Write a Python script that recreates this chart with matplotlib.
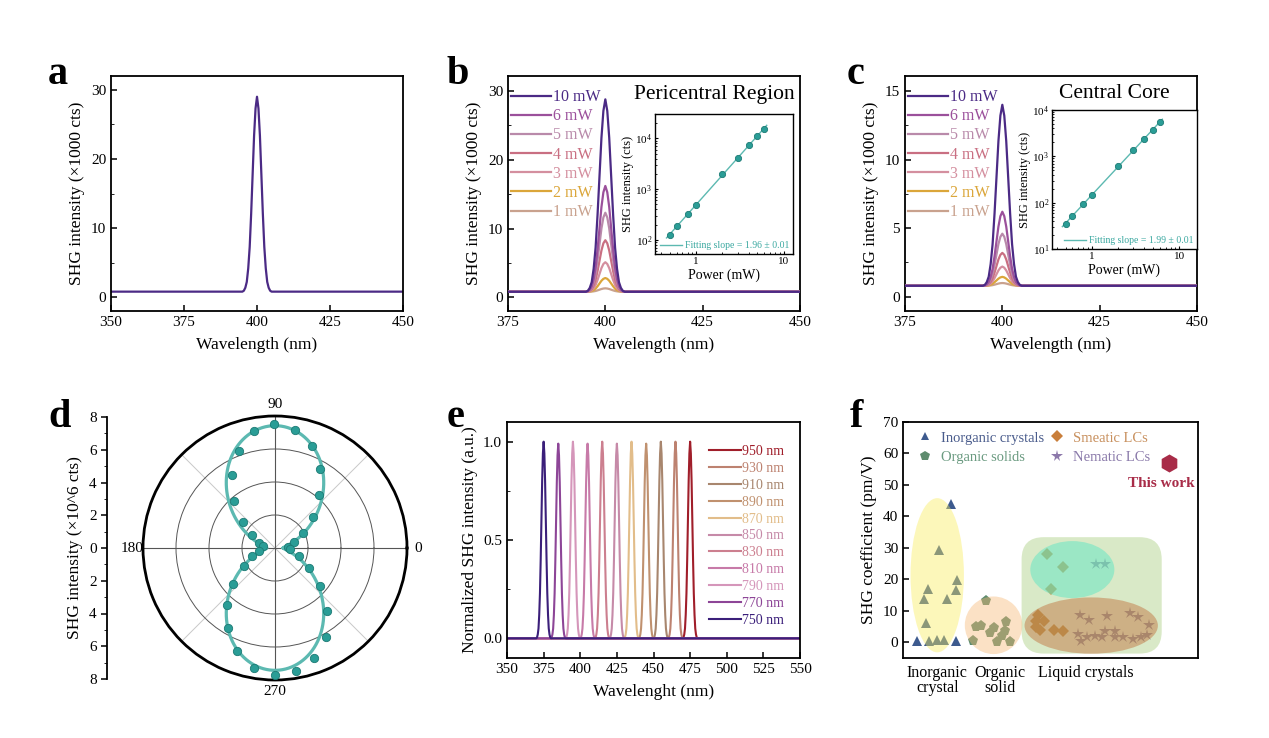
import numpy as np
import matplotlib
matplotlib.use('Agg')
import matplotlib.pyplot as plt
import matplotlib.transforms as mtransforms
from matplotlib.patches import Ellipse, FancyBboxPatch
from matplotlib.lines import Line2D
from matplotlib.ticker import MultipleLocator, FixedLocator, FuncFormatter, LogLocator, NullFormatter, LogFormatterSciNotation

plt.rcParams['font.family'] = ['Liberation Serif', 'DejaVu Serif']
plt.rcParams['mathtext.fontset'] = 'stix'
plt.rcParams['xtick.direction'] = 'in'
plt.rcParams['ytick.direction'] = 'in'
plt.rcParams['axes.linewidth'] = 1.3
plt.rcParams['xtick.major.width'] = 1.1
plt.rcParams['ytick.major.width'] = 1.1
plt.rcParams['xtick.major.size'] = 4
plt.rcParams['ytick.major.size'] = 4
plt.rcParams['ytick.minor.size'] = 2.2
plt.rcParams['xtick.minor.size'] = 2.2

# ---------------- data ----------------
# normalised peak line shape (offset in nm, relative intensity)
profile_offset = [-5.0, -4.5, -4.0, -3.5, -3.0, -2.5, -2.0, -1.5, -1.0, -0.5, 0.0,
                  0.5, 1.0, 1.5, 2.0, 2.5, 3.0, 3.5, 4.0, 4.5, 5.0]
profile_rel = [0.0, 0.005, 0.02, 0.05, 0.12, 0.23, 0.40, 0.60, 0.80, 0.94, 1.0,
               0.94, 0.80, 0.60, 0.40, 0.23, 0.12, 0.05, 0.02, 0.005, 0.0]

# panel a
a_center = 400
a_peak = 29.0
a_base = 0.8

# panels b, c
power_labels = ['10 mW', '6 mW', '5 mW', '4 mW', '3 mW', '2 mW', '1 mW']
power_colors = ['#4b2a85', '#9b509b', '#b98aaa', '#c96f82', '#d48f9f', '#dba63a', '#c9a28e']
b_peaks = [28.8, 16.2, 12.3, 8.3, 5.1, 2.8, 1.3]
c_peaks = [14.0, 6.2, 4.6, 3.2, 2.2, 1.45, 1.0]
bc_base = 0.8
bc_center = 400

# insets
inset_power = [0.5, 0.6, 0.8, 1.0, 2.0, 3.0, 4.0, 5.0, 6.0]
b_counts = [125, 185, 324, 490, 1950, 4150, 7300, 11200, 15100]
c_counts = [35.5, 52, 93, 145, 630, 1360, 2390, 3740, 5500]

# panel d (polar)
d_theta_deg = [4.5, 17.8, 28.5, 39.5, 50.7, 60.5, 70.0, 80.5, 90.5, 100.3, 110.1, 120.5,
               130.6, 141.0, 151.0, 161.9, 170.8, 190.8, 199.2, 210.3, 220.1, 229.8,
               239.5, 249.7, 260.0, 270.0, 279.6, 289.7, 299.7, 309.6, 319.6, 329.7,
               341.8, 354.9]
d_r = [0.77, 1.19, 1.91, 2.96, 4.19, 5.51, 6.55, 7.28, 7.53, 7.18, 6.28, 5.14,
       3.79, 2.50, 1.60, 1.04, 0.76, 0.97, 1.48, 2.20, 3.35, 4.52,
       5.66, 6.66, 7.38, 7.67, 7.58, 7.07, 6.18, 4.93, 3.58, 2.36,
       1.55, 0.91]

# panel e
e_labels = ['950 nm', '930 nm', '910 nm', '890 nm', '870 nm', '850 nm',
            '830 nm', '810 nm', '790 nm', '770 nm', '750 nm']
e_centers = [475, 465, 455, 445, 435, 425, 415, 405, 395, 385, 375]
e_heights = [1.0, 1.0, 1.0, 0.99, 1.0, 0.99, 1.0, 0.99, 1.0, 0.99, 1.0]
e_colors = ['#a01e2a', '#bd8270', '#a8866e', '#c0916f', '#e2bd8a', '#c68aa8',
            '#cc7f8f', '#c77aa8', '#d596ba', '#8d4597', '#3b1f7a']

# panel f
inorg_x = [0.47, 0.88, 1.16, 1.40, 1.79, 0.79, 0.70, 0.85, 1.21, 1.63, 1.50, 1.79, 1.82]
inorg_y = [0.5, 0.5, 0.85, 0.6, 0.5, 6.2, 13.8, 17.0, 29.3, 43.9, 13.6, 16.5, 19.7]
org_x = [2.80, 2.49, 2.66, 3.07, 2.96, 2.38, 3.19, 3.37, 3.46, 3.48, 3.62]
org_y = [13.1, 5.0, 5.3, 4.6, 2.9, 0.5, 0.0, 2.1, 3.5, 6.4, 0.0]
sm_x = [4.87, 5.42, 5.00, 4.58, 4.52, 4.78, 4.50, 4.66, 5.11, 5.42]
sm_y = [27.9, 23.9, 17.0, 8.7, 6.9, 6.6, 4.8, 3.9, 3.9, 3.7]
nm_x = [6.55, 6.84, 5.99, 6.31, 6.93, 7.71, 7.98, 8.34, 5.92, 6.03, 6.25, 6.50,
        6.76, 6.84, 7.18, 7.18, 7.46, 7.80, 8.08, 8.27]
nm_y = [25, 25, 8.7, 7.2, 8.5, 9.3, 8.0, 5.5, 2.7, 0.3, 1.6, 2.1,
        1.8, 3.5, 3.5, 1.8, 1.8, 1.1, 1.6, 2.3]
this_x = [9.0]
this_y = [56.9]
f_categories = ['Inorganic\ncrystal', 'Organic\nsolid', 'Liquid crystals']
f_cat_x = [1.16, 3.28, 6.19]

# ---------------- layout helpers ----------------
W, H = 1269, 738
fig = plt.figure(figsize=(W / 100, H / 100), dpi=100)


def px_box(l, t, r, b):
    return [l / W, 1 - b / H, (r - l) / W, (b - t) / H]


def spectrum(center, peak, base, xmin, xmax):
    xs = [xmin] + [center + o for o in profile_offset] + [xmax]
    ys = [base] + [base + (peak - base) * p for p in profile_rel] + [base]
    return xs, ys


TICK_FS = 11
LABEL_FS = 12.5
teal = '#2a9d96'
teal_edge = '#1c7a74'
teal_line = '#5cb9b1'

# ---------------- panel a ----------------
ax_a = fig.add_axes(px_box(111, 76, 403, 311))
xs, ys = spectrum(a_center, a_peak, a_base, 350, 450)
ax_a.plot(xs, ys, color='#4b2a85', lw=1.6)
ax_a.set_xlim(350, 450)
ax_a.set_ylim(-2, 32)
ax_a.xaxis.set_major_locator(MultipleLocator(25))
ax_a.yaxis.set_major_locator(MultipleLocator(10))
ax_a.yaxis.set_minor_locator(MultipleLocator(5))
ax_a.set_xlabel('Wavelength (nm)', fontsize=LABEL_FS, labelpad=6)
ax_a.set_ylabel('SHG intensity (×1000 cts)', fontsize=LABEL_FS)
ax_a.tick_params(labelsize=TICK_FS)


# ---------------- panels b, c ----------------
def power_panel(box, peaks, ylim, ymaj, ymin, title, title_xy, inset_box, counts,
                ilim_y, ilim_x, slope_text):
    ax = fig.add_axes(px_box(*box))
    handles = []
    for lab, col, pk in zip(power_labels, power_colors, peaks):
        xs, ys = spectrum(bc_center, pk, bc_base, 375, 450)
        ln, = ax.plot(xs, ys, color=col, lw=1.6, label=lab)
        handles.append(ln)
    # strongest curve on top
    for ln, z in zip(handles, range(len(handles), 0, -1)):
        ln.set_zorder(2 + z)
    ax.set_xlim(375, 450)
    ax.set_ylim(*ylim)
    ax.xaxis.set_major_locator(MultipleLocator(25))
    ax.yaxis.set_major_locator(MultipleLocator(ymaj))
    ax.yaxis.set_minor_locator(MultipleLocator(ymin))
    ax.set_xlabel('Wavelength (nm)', fontsize=LABEL_FS, labelpad=6)
    ax.set_ylabel('SHG intensity (×1000 cts)', fontsize=LABEL_FS)
    ax.tick_params(labelsize=TICK_FS)
    leg = ax.legend(handles=handles, loc='upper left', bbox_to_anchor=(-0.022, 0.985),
                    frameon=False, fontsize=11.5, handlelength=2.5, handletextpad=0.15,
                    labelspacing=0.2, borderaxespad=0.3, borderpad=0.3)
    for t, col in zip(leg.get_texts(), power_colors):
        t.set_color(col)
    fig.text(title_xy[0] / W, 1 - title_xy[1] / H, title, fontsize=15.5,
             ha='center', va='center')

    ins = fig.add_axes(px_box(*inset_box))
    ins.set_xscale('log')
    ins.set_yscale('log')
    logp = np.log10(inset_power)
    logc = np.log10(counts)
    slope, icpt = np.polyfit(logp, logc, 1)
    fx = np.array([min(inset_power) * 0.92, max(inset_power) * 1.07])
    fit_ln, = ins.plot(fx, 10 ** (icpt + slope * np.log10(fx)), color=teal_line, lw=1.0)
    ins.plot(inset_power, counts, 'o', color=teal, mec=teal_edge, mew=0.6, ms=4.5, zorder=3)
    ins.set_xlim(*ilim_x)
    ins.set_ylim(*ilim_y)
    ins.xaxis.set_major_locator(FixedLocator([1, 10]))
    ins.xaxis.set_major_formatter(FuncFormatter(lambda v, p: '%g' % v))
    ins.xaxis.set_minor_locator(LogLocator(base=10, subs=np.arange(2, 10)))
    ins.xaxis.set_minor_formatter(NullFormatter())
    ins.yaxis.set_major_locator(LogLocator(base=10, numticks=10))
    ins.yaxis.set_major_formatter(LogFormatterSciNotation())
    ins.yaxis.set_minor_locator(LogLocator(base=10, subs=np.arange(2, 10), numticks=10))
    ins.yaxis.set_minor_formatter(NullFormatter())
    ins.tick_params(labelsize=8, length=2.5, width=0.8, pad=2)
    ins.tick_params(which='minor', length=1.5, width=0.6)
    for s in ins.spines.values():
        s.set_linewidth(1.0)
    ins.set_xlabel('Power (mW)', fontsize=10, labelpad=2)
    ins.set_ylabel('SHG intensity (cts)', fontsize=9, labelpad=1)
    ileg = ins.legend([fit_ln], [slope_text], loc='lower right', frameon=False,
                      fontsize=7, handlelength=2.2, handletextpad=0.3,
                      borderaxespad=0.2, borderpad=0.2)
    ileg.get_texts()[0].set_color('#3aa8a0')
    return ax


ax_b = power_panel((508, 76, 800, 311), b_peaks, (-2, 32.2), 10, 5,
                   'Pericentral Region', (714, 95), (655, 114, 793, 254), b_counts,
                   (10 ** 1.725, 10 ** 4.477), (0.34, 12.8), 'Fitting slope = 1.96 ± 0.01')
ax_c = power_panel((905, 76, 1197, 311), c_peaks, (-1.04, 16.1), 5, 2.5,
                   'Central Core', (1114, 93), (1052, 110, 1197, 249), c_counts,
                   (10, 1e4), (0.35, 16), 'Fitting slope = 1.99 ± 0.01')

# ---------------- panel d (polar) ----------------
cx, cy, R = 275, 548, 132
ax_d = fig.add_axes(px_box(cx - R, cy - R, cx + R, cy + R), projection='polar')
th = np.deg2rad(d_theta_deg)
rr = np.array(d_r)
# least-squares fit r = A sin^2(theta) + B to the measured points
Amat = np.vstack([np.sin(th) ** 2, np.ones_like(th)]).T
(A_fit, B_fit), *_ = np.linalg.lstsq(Amat, rr, rcond=None)
tt = np.linspace(0, 2 * np.pi, 721)
ax_d.set_rlim(0, 8)
ax_d.set_rticks([2, 4, 6, 8])
ax_d.set_yticklabels([])
ax_d.yaxis.grid(True, color='#555555', lw=0.7)
ax_d.xaxis.grid(False)
for ang in [45, 135, 225, 315]:
    ax_d.plot([np.deg2rad(ang)] * 2, [0, 8], color='#c8c8c8', lw=0.7, zorder=1)
for ang in [0, 90, 180, 270]:
    ax_d.plot([np.deg2rad(ang)] * 2, [0, 8], color='#555555', lw=0.8, zorder=1)
ax_d.plot(tt, A_fit * np.sin(tt) ** 2 + B_fit, color=teal_line, lw=2.3, zorder=3)
ax_d.plot(th, rr, 'o', color=teal, mec=teal_edge, mew=0.6, ms=6.0, zorder=4)
ax_d.set_thetagrids([0, 90, 180, 270], labels=['0', '90', '180', '270'], fontsize=TICK_FS)
ax_d.tick_params(axis='x', pad=1)
ax_d.spines['polar'].set_linewidth(2.0)
ax_d.set_rlim(0, 8)

ax_r = fig.add_axes(px_box(107, cy - R + 1, 130, cy + R - 1))
ax_r.set_ylim(-8, 8)
ax_r.patch.set_visible(False)
for s in ['top', 'right', 'bottom']:
    ax_r.spines[s].set_visible(False)
ax_r.spines['left'].set_linewidth(1.3)
ax_r.set_xticks([])
ax_r.yaxis.set_major_locator(MultipleLocator(2))
ax_r.yaxis.set_minor_locator(MultipleLocator(1))
ax_r.yaxis.set_major_formatter(FuncFormatter(lambda v, p: '%d' % abs(round(v))))
ax_r.tick_params(axis='y', direction='out', labelsize=TICK_FS, length=4)
ax_r.tick_params(axis='y', which='minor', direction='out', length=2.2)
ax_r.set_ylabel('SHG intensity (×10^6 cts)', fontsize=LABEL_FS, labelpad=4)

# ---------------- panel e ----------------
ax_e = fig.add_axes(px_box(507, 422, 800, 658))
e_handles = []
for lab, cen, hgt, col in zip(e_labels, e_centers, e_heights, e_colors):
    xs, ys = spectrum(cen, hgt, 0.0, 350, 550)
    ln, = ax_e.plot(xs, ys, color=col, lw=1.5, label=lab)
    e_handles.append(ln)
ax_e.set_xlim(350, 550)
ax_e.set_ylim(-0.1, 1.1)
ax_e.xaxis.set_major_locator(MultipleLocator(25))
ax_e.yaxis.set_major_locator(MultipleLocator(0.5))
ax_e.yaxis.set_minor_locator(MultipleLocator(0.25))
ax_e.yaxis.set_major_formatter(FuncFormatter(lambda v, p: '%.1f' % v))
ax_e.tick_params(labelsize=TICK_FS)
ax_e.set_xlabel('Wavelenght (nm)', fontsize=LABEL_FS, labelpad=6)
ax_e.set_ylabel('Normalized SHG intensity (a.u.)', fontsize=LABEL_FS)
leg_e = ax_e.legend(handles=e_handles, loc='upper left',
                    bbox_to_anchor=((709 - 507) / 293, 1 - (445 - 422) / 236),
                    frameon=False, fontsize=10, handlelength=2.3, handletextpad=0.1,
                    labelspacing=0.28, borderaxespad=0, borderpad=0)
for t, col in zip(leg_e.get_texts(), e_colors):
    t.set_color(col)

# ---------------- panel f ----------------
ax_f = fig.add_axes(px_box(903, 422, 1198, 658))
ax_f.set_xlim(0, 10)
ax_f.set_ylim(-5, 70)
c_inorg, c_org, c_sm, c_nm, c_this = '#3d5a8e', '#5e8c6e', '#c97e3a', '#8c78aa', '#a82c48'
ax_f.plot(inorg_x, inorg_y, '^', color=c_inorg, ms=6.5, mew=0, ls='none', zorder=2)
ax_f.plot(org_x, org_y, 'p', color=c_org, ms=8, mew=0, ls='none', zorder=2)
ax_f.plot(sm_x, sm_y, 'D', color=c_sm, ms=6.5, mew=0, ls='none', zorder=2)
ax_f.plot(nm_x, nm_y, '*', color=c_nm, ms=9, mew=0, ls='none', zorder=2)
ax_f.plot(this_x, this_y, 'h', color=c_this, ms=13, mew=0, ls='none', zorder=2)
ax_f.text(8.77, 50.5, 'This work', color=c_this, fontsize=11, fontweight='bold',
          ha='center', va='center')
# translucent grouping shapes laid over the markers
ALPHA = 0.42
green_box = FancyBboxPatch((4.02, -3.6), 4.75, 37.0,
                           boxstyle='round,pad=0,rounding_size=0.75',
                           mutation_aspect=9.4, fc='#a6cc7a', ec='none',
                           alpha=ALPHA, zorder=3)
ax_f.add_patch(green_box)
ax_f.add_patch(Ellipse((1.16, 21.3), 1.81, 49.0, fc='#f9ec5c', ec='none', alpha=ALPHA, zorder=3))
ax_f.add_patch(Ellipse((3.07, 5.4), 1.95, 18.3, fc='#f6b876', ec='none', alpha=ALPHA, zorder=3))
ax_f.add_patch(Ellipse((5.74, 23.1), 2.85, 18.1, fc='#63e6c4', ec='none', alpha=ALPHA + 0.1, zorder=4))
ax_f.add_patch(Ellipse((6.38, 5.3), 4.52, 17.9, fc='#c0703c', ec='none', alpha=ALPHA + 0.05, zorder=4))
ax_f.set_xticks([])
ax_f.yaxis.set_major_locator(MultipleLocator(10))
ax_f.tick_params(labelsize=TICK_FS)
ax_f.set_ylabel('SHG coefficient (pm/V)', fontsize=LABEL_FS, labelpad=4)
trans_f = mtransforms.blended_transform_factory(ax_f.transData, ax_f.transAxes)
for lab, xv in zip(f_categories, f_cat_x):
    ax_f.text(xv, -0.03, lab, transform=trans_f, ha='center', va='top',
              fontsize=11.5, linespacing=0.95)
f_handles = [Line2D([], [], marker='^', color=c_inorg, ls='none', ms=6, mew=0),
             Line2D([], [], marker='p', color=c_org, ls='none', ms=7.5, mew=0),
             Line2D([], [], marker='D', color=c_sm, ls='none', ms=6, mew=0),
             Line2D([], [], marker='*', color=c_nm, ls='none', ms=8.5, mew=0)]
f_labels = ['Inorganic crystals', 'Organic solids', 'Smeatic LCs', 'Nematic LCs']
f_text_cols = ['#4a5c8c', '#6a9a80', '#c8905e', '#8a7aaa']
leg_f = ax_f.legend(f_handles, f_labels, ncol=2, loc='upper left',
                    bbox_to_anchor=(0.03, 0.985), frameon=False, fontsize=10.5,
                    handlelength=1.0, handletextpad=0.6, columnspacing=0.35,
                    labelspacing=0.45, borderpad=0.2, borderaxespad=0.2)
for t, col in zip(leg_f.get_texts(), f_text_cols):
    t.set_color(col)

# ---------------- panel letters ----------------
for letter, (x, y) in zip('abcdef', [(48, 84), (447, 84), (847, 84),
                                    (48, 427), (447, 427), (850, 427)]):
    fig.text(x / W, 1 - y / H, letter, fontsize=29, fontweight='bold',
             ha='left', va='baseline')

fig.savefig('out.png', dpi=100)
